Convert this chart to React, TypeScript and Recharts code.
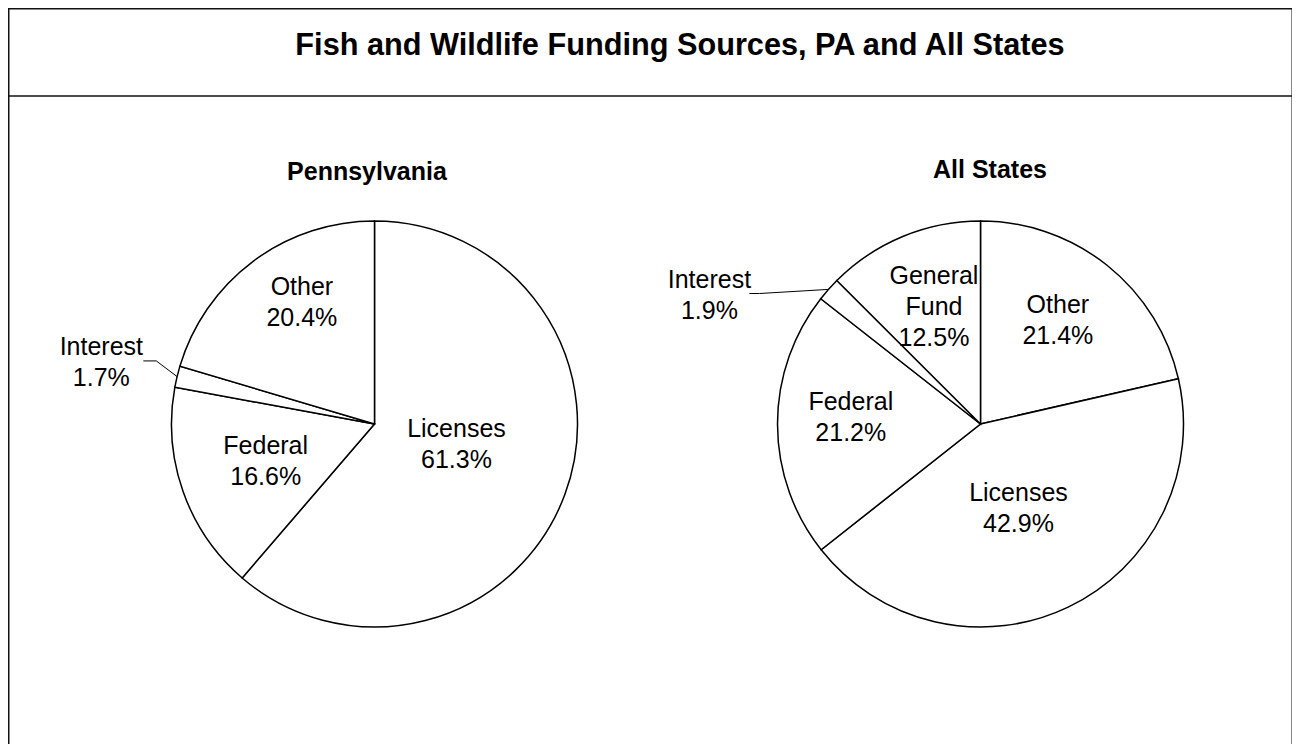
import { PieChart, Pie } from 'recharts';

// Funding shares (%), listed clockwise from 12 o'clock
const chartTitle = 'Fish and Wildlife Funding Sources, PA and All States';
const pieTitles = ['Pennsylvania', 'All States'];

const paCategories = ['Licenses', 'Federal', 'Interest', 'Other'];
const paShares = [61.3, 16.6, 1.7, 20.4];

const allCategories = ['Other', 'Licenses', 'Federal', 'Interest', 'General Fund'];
const allShares = [21.4, 42.9, 21.2, 1.9, 12.5];

const paData = paCategories.map((name, i) => ({ name, value: paShares[i] }));
const allData = allCategories.map((name, i) => ({ name, value: allShares[i] }));

const FONT = '"Liberation Sans", Arial, Helvetica, sans-serif';
const RAD = Math.PI / 180;
const W = 1285;
const H = 736;
const R = 203;

// Label placement (Excel "best fit" look): radius fraction + angle nudge in degrees
type Place = { r: number; shift?: number; outside?: boolean; endDx?: number; elbowDx?: number };

const paPlacement: Record<string, Place> = {
  Licenses: { r: 0.415, shift: -7 },
  Federal: { r: 0.565, shift: 1 },
  Interest: { r: 1.38, shift: -0.7, outside: true, endDx: 42, elbowDx: 55 },
  Other: { r: 0.7, shift: 6 },
};

const allPlacement: Record<string, Place> = {
  Other: { r: 0.64, shift: -2 },
  Licenses: { r: 0.45, shift: 1 },
  Federal: { r: 0.64, shift: 3.5 },
  Interest: { r: 1.48, shift: -16, outside: true, endDx: 40, elbowDx: 50 },
  'General Fund': { r: 0.625, shift: 1 },
};

const makeLabel = (placement: Record<string, Place>) => (props: any) => {
  const { cx, cy, midAngle, outerRadius, name, value } = props;
  const p = placement[name];
  const theta = 90 - midAngle; // clockwise from top
  const t = (theta + (p.shift ?? 0)) * RAD;
  const lx = cx + outerRadius * p.r * Math.sin(t);
  const ly = cy - outerRadius * p.r * Math.cos(t);
  const lines = [...String(name).split(' '), `${Number(value).toFixed(1)}%`];
  const step = 31;
  const y0 = ly - ((lines.length - 1) * step) / 2;

  let leader = null;
  if (p.outside) {
    const ex = cx + outerRadius * Math.sin(theta * RAD);
    const ey = cy - outerRadius * Math.cos(theta * RAD);
    const by = ly - 1;
    leader = (
      <polyline
        points={`${ex},${ey} ${lx + (p.elbowDx ?? 55)},${by} ${lx + (p.endDx ?? 42)},${by}`}
        fill="none"
        stroke="#000"
        strokeWidth={1}
      />
    );
  }

  return (
    <g>
      {leader}
      <text
        x={lx}
        y={y0}
        textAnchor="middle"
        dominantBaseline="central"
        fontFamily={FONT}
        fontSize={25}
        fill="#000"
      >
        {lines.map((line, i) => (
          <tspan key={i} x={lx} y={y0 + i * step}>
            {line}
          </tspan>
        ))}
      </text>
    </g>
  );
};

export default function App() {
  return (
    <div style={{ position: 'relative', width: W, height: H }}>
      <svg
        width={W}
        height={H}
        style={{ position: 'absolute', left: 0, top: 0 }}
      >
        <rect x={0.75} y={0.75} width={W - 1.5} height={H + 100} fill="#fff" stroke="#111" strokeWidth={1.5} />
        <line x1={0} y1={88} x2={W} y2={88} stroke="#111" strokeWidth={1.5} />
        <text x={672} y={47} textAnchor="middle" fontFamily={FONT} fontSize={30.7} fontWeight="bold" fill="#000">
          {chartTitle}
        </text>
        <text x={359} y={172} textAnchor="middle" fontFamily={FONT} fontSize={25} fontWeight="bold" fill="#000">
          {pieTitles[0]}
        </text>
        <text x={982} y={170} textAnchor="middle" fontFamily={FONT} fontSize={25} fontWeight="bold" fill="#000">
          {pieTitles[1]}
        </text>
      </svg>
      <div style={{ position: 'absolute', left: 0, top: 0 }}>
        <PieChart
          width={W}
          height={H}
          margin={{ top: 0, right: 0, bottom: 0, left: 0 }}
          style={{ outline: 'none' }}
        >
          <Pie
            data={paData}
            dataKey="value"
            nameKey="name"
            cx={366.5}
            cy={416}
            outerRadius={R}
            startAngle={90}
            endAngle={-270}
            fill="#fff"
            stroke="#000"
            strokeWidth={1.5}
            labelLine={false}
            label={makeLabel(paPlacement)}
            isAnimationActive={false}
          />
          <Pie
            data={allData}
            dataKey="value"
            nameKey="name"
            cx={972.5}
            cy={416}
            outerRadius={R}
            startAngle={90}
            endAngle={-270}
            fill="#fff"
            stroke="#000"
            strokeWidth={1.5}
            labelLine={false}
            label={makeLabel(allPlacement)}
            isAnimationActive={false}
          />
        </PieChart>
      </div>
    </div>
  );
}
